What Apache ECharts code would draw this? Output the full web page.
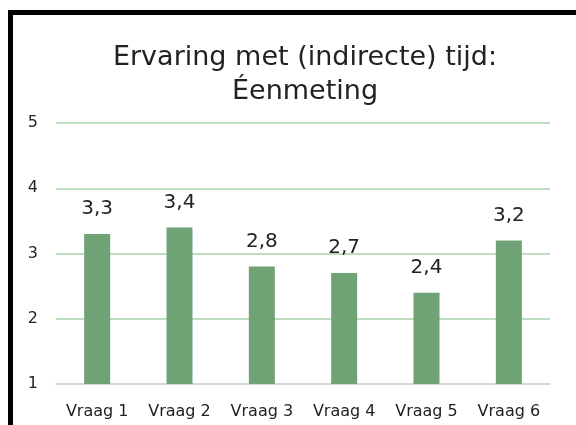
<!DOCTYPE html>
<html>
<head>
  <meta charset="utf-8" />
  <title>Ervaring met tijd</title>
  <script src="https://cdn.jsdelivr.net/npm/echarts@6/dist/echarts.min.js"></script>
  <style>
    html, body { margin: 0; padding: 0; background: #fff; }
    #wrap { position: relative; width: 576px; height: 425px; overflow: hidden; }
    #main { width: 576px; height: 425px; }
    /* zwarte rand links en boven (uitsnede van grotere dia) */
    #rand { position: absolute; left: 8px; top: 10px; width: 600px; height: 500px;
            border-left: 5px solid #000; border-top: 5px solid #000; pointer-events: none; }
  </style>
</head>
<body>
<div id="wrap">
  <div id="main"></div>
  <div id="rand"></div>
</div>
<script type="text/javascript">
  // data
  var vragen = ['Vraag 1', 'Vraag 2', 'Vraag 3', 'Vraag 4', 'Vraag 5', 'Vraag 6'];
  var scores = [3.3, 3.4, 2.8, 2.7, 2.4, 3.2];
  var yMin = 1, yMax = 5, yStap = 1;

  var font = 'DejaVu Sans';
  var myChart = echarts.init(document.getElementById('main'));
  var option = {
    backgroundColor: '#fff',
    title: {
      text: 'Ervaring met (indirecte) tijd:\nÉenmeting',
      left: 300,
      textAlign: 'center',
      top: 36,
      textStyle: {
        fontFamily: font,
        fontSize: 27,
        fontWeight: 'normal',
        color: '#222',
        lineHeight: 34
      }
    },
    grid: { left: 56, right: 26, top: 123, bottom: 41 },
    xAxis: {
      type: 'category',
      data: vragen,
      axisTick: { show: false },
      axisLine: { lineStyle: { color: '#d9d9d9', width: 1.5 } },
      axisLabel: { fontFamily: font, fontSize: 16, color: '#222', margin: 20, interval: 0 }
    },
    yAxis: {
      type: 'value',
      min: yMin,
      max: yMax,
      interval: yStap,
      axisLine: { show: false },
      axisTick: { show: false },
      axisLabel: { fontFamily: font, fontSize: 16, color: '#222', margin: 18 },
      splitLine: { lineStyle: { color: '#a9d1a9', width: 1.5 } }
    },
    series: [{
      type: 'bar',
      data: scores,
      barWidth: 26,
      itemStyle: { color: '#6fa274' },
      label: {
        show: true,
        position: 'top',
        distance: 15,
        fontFamily: font,
        fontSize: 20,
        color: '#222',
        formatter: function (p) { return p.value.toFixed(1).replace('.', ','); }
      }
    }]
  };
  myChart.setOption(option);
</script>
</body>
</html>
